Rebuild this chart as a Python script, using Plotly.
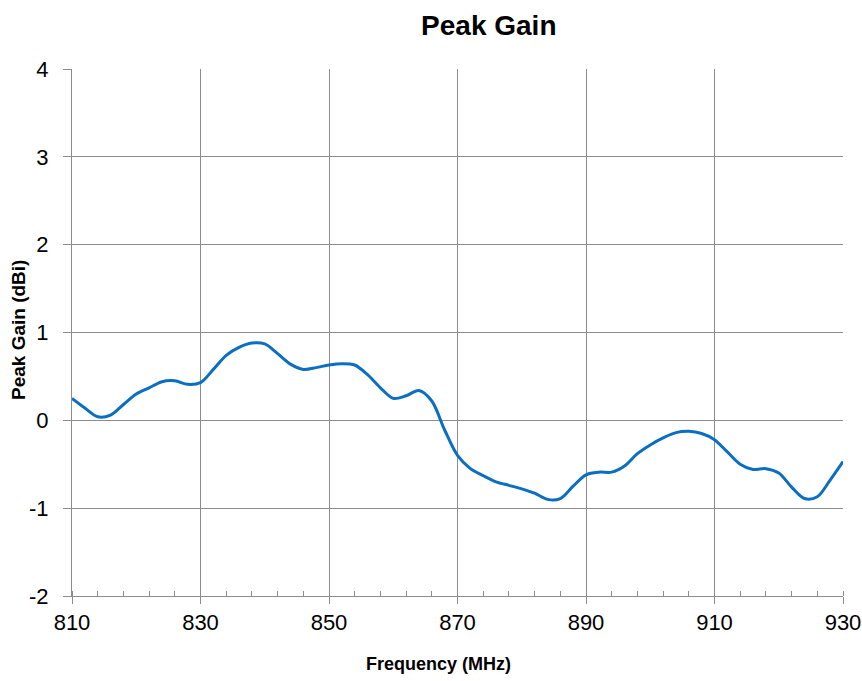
import plotly.graph_objects as go

freq_mhz = [810, 812, 814, 816, 818, 820, 822, 824, 826, 828, 830, 832, 834, 836, 838, 840,
            842, 844, 846, 848, 850, 852, 854, 856, 858, 860, 862, 864, 866, 868, 870, 872,
            874, 876, 878, 880, 882, 884, 886, 888, 890, 892, 894, 896, 898, 900, 902, 904,
            906, 908, 910, 912, 914, 916, 918, 920, 922, 924, 926, 928, 930]
peak_gain_dbi = [0.25, 0.14, 0.04, 0.06, 0.18, 0.30, 0.37, 0.44, 0.45, 0.41, 0.43, 0.58, 0.74, 0.83, 0.88, 0.87,
                 0.76, 0.64, 0.58, 0.60, 0.63, 0.645, 0.63, 0.52, 0.37, 0.25, 0.28, 0.34, 0.22, -0.11, -0.40, -0.55,
                 -0.63, -0.70, -0.74, -0.78, -0.83, -0.90, -0.89, -0.75, -0.62, -0.59, -0.59, -0.52, -0.38, -0.28, -0.20, -0.14,
                 -0.125, -0.15, -0.22, -0.36, -0.50, -0.56, -0.55, -0.60, -0.76, -0.89, -0.87, -0.68, -0.47]

x_ticks = [810, 830, 850, 870, 890, 910, 930]
y_ticks = [-2, -1, 0, 1, 2, 3, 4]
y_tick_text = ["-2", "-1", "0", "1", "2", "3", "4"]

fig = go.Figure()
fig.add_trace(go.Scatter(
    x=freq_mhz, y=peak_gain_dbi, mode="lines",
    line=dict(color="#0a6fc2", width=3, shape="spline", smoothing=0.9),
    showlegend=False, hoverinfo="skip",
))

font_family = "Liberation Sans, Arial, sans-serif"
fig.update_layout(
    width=862, height=681,
    margin=dict(l=72, r=19, t=69, b=85, autoexpand=False),
    paper_bgcolor="white", plot_bgcolor="white",
    font=dict(family=font_family, color="black"),
    title=dict(text="<b>Peak Gain</b>", x=466 / 862, xanchor="center", xref="paper",
               y=1 - 25 / 681, yanchor="middle", yref="container",
               font=dict(size=28, family=font_family, color="black")),
    xaxis=dict(
        range=[810, 930], tickvals=x_ticks, showgrid=True, gridcolor="#8c8c8c", gridwidth=1,
        showline=True, linecolor="#8c8c8c", linewidth=1, mirror=False, automargin=False,
        ticks="outside", ticklen=7, tickcolor="#8c8c8c",
        tickfont=dict(size=22, family=font_family, color="black"),
        minor=dict(dtick=4, tick0=810, ticks="inside", ticklen=5, tickcolor="#8c8c8c", showgrid=False),
        zeroline=False,
    ),
    yaxis=dict(
        range=[-2, 4], tickvals=y_ticks, ticktext=y_tick_text, showgrid=True, gridcolor="#8c8c8c", gridwidth=1,
        showline=True, linecolor="#8c8c8c", linewidth=1, automargin=False,
        ticks="outside", ticklen=8, tickcolor="#8c8c8c", ticklabelstandoff=10,
        tickfont=dict(size=22, family=font_family, color="black"),
        zeroline=False,
    ),
    annotations=[
        dict(text="<b>Frequency (MHz)</b>", xref="paper", yref="paper",
             x=(438 - 72) / 771, y=-(664 - 596) / 527, xanchor="center", yanchor="middle",
             showarrow=False, font=dict(size=18, family=font_family, color="black")),
        dict(text="<b>Peak Gain (dBi)</b>", xref="paper", yref="paper", textangle=-90,
             x=-(72 - 18) / 771, y=(596 - 330) / 527, xanchor="center", yanchor="middle",
             showarrow=False, font=dict(size=19, family=font_family, color="black")),
    ],
)

fig.write_html("out.html", config={"displayModeBar": False},
               post_script="document.body.style.margin='0';")
